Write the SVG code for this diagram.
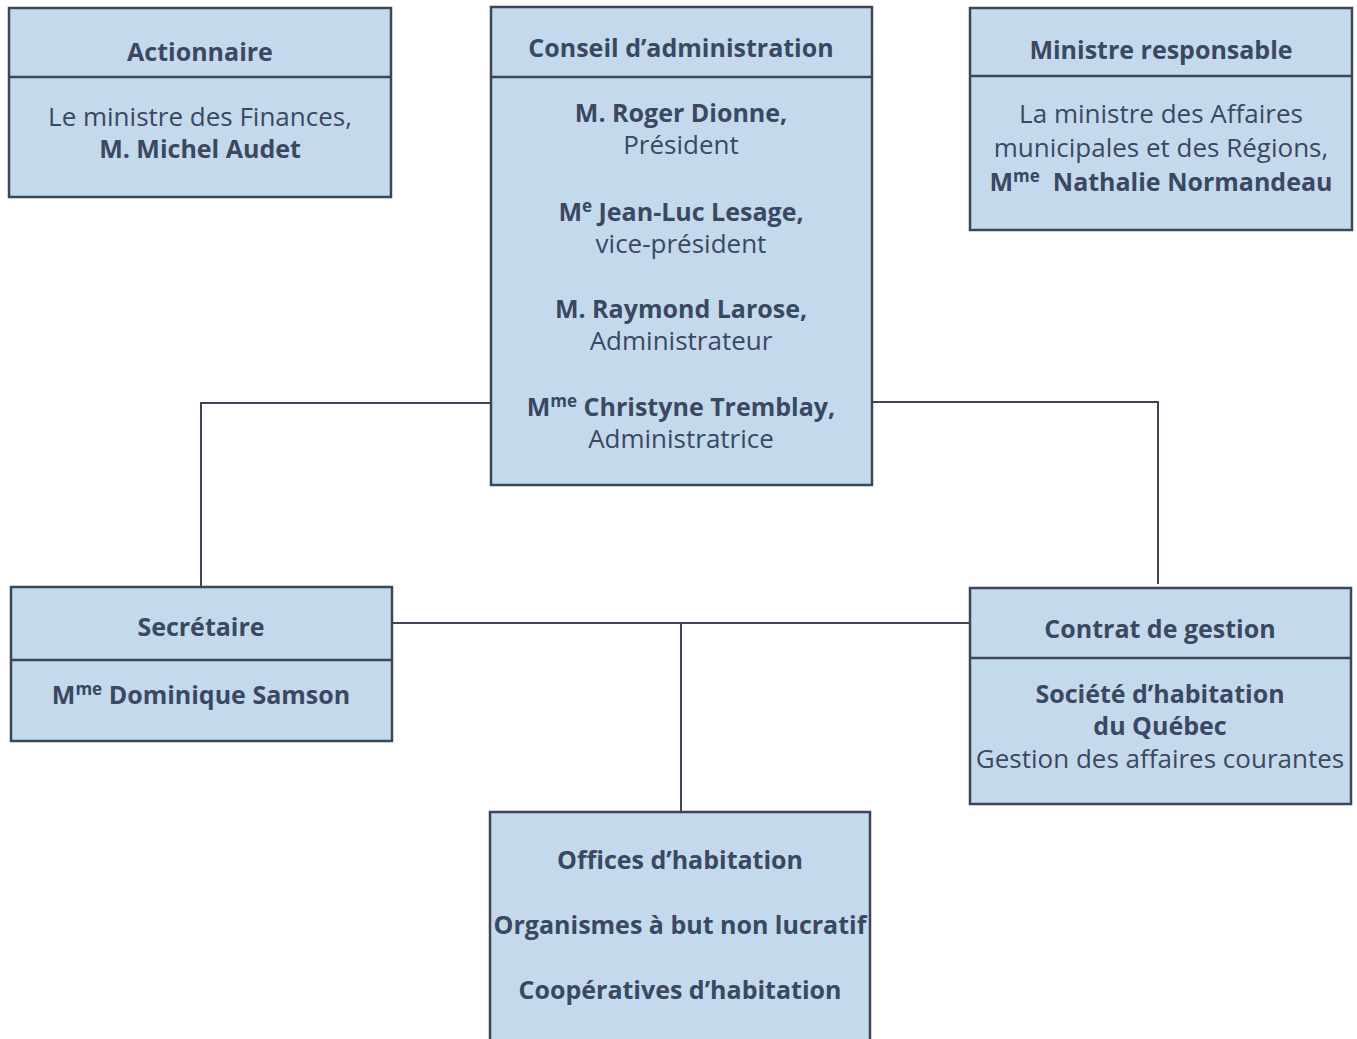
<svg xmlns="http://www.w3.org/2000/svg" width="1357" height="1039" viewBox="0 0 1357 1039">
<style>
.box{fill:#c5d9ec;stroke:#3d4659;stroke-width:2.5}
.div{stroke:#3d4659;stroke-width:2.5}
.con{fill:none;stroke:#3d4659;stroke-width:2}
text{font-family:"Open Sans","Noto Sans","DejaVu Sans",sans-serif;font-size:26px;fill:#3a4862;text-anchor:middle}
.b{font-weight:bold;font-size:25px}
.sup{font-size:17px}
</style>
<rect width="1357" height="1039" fill="#ffffff"/>
<g id="connectors">
<polyline class="con" points="490,403 201,403 201,586"/>
<polyline class="con" points="872,402 1158,402 1158,584"/>
<line class="con" x1="392" y1="623" x2="970" y2="623"/>
<line class="con" x1="681" y1="623" x2="681" y2="812"/>
</g>
<g id="actionnaire">
<rect class="box" x="9" y="8" width="382" height="189"/>
<line class="div" x1="9" y1="77" x2="391" y2="77"/>
<text class="b" x="200" y="61">Actionnaire</text>
<text x="200" y="126">Le ministre des Finances,</text>
<text class="b" x="200" y="158">M. Michel Audet</text>
</g>
<g id="conseil">
<rect class="box" x="491" y="7" width="381" height="478"/>
<line class="div" x1="491" y1="77" x2="872" y2="77"/>
<text class="b" x="681" y="57">Conseil d’administration</text>
<text class="b" x="681" y="122">M. Roger Dionne,</text>
<text x="681" y="154">Président</text>
<text class="b" x="681" y="221">M<tspan class="sup" dy="-9">e</tspan><tspan dy="9"> Jean-Luc Lesage,</tspan></text>
<text x="681" y="253">vice-président</text>
<text class="b" x="681" y="318">M. Raymond Larose,</text>
<text x="681" y="350">Administrateur</text>
<text class="b" x="681" y="416">M<tspan class="sup" dy="-9">me</tspan><tspan dy="9"> Christyne Tremblay,</tspan></text>
<text x="681" y="448">Administratrice</text>
</g>
<g id="ministre">
<rect class="box" x="970" y="8" width="382" height="222"/>
<line class="div" x1="970" y1="76" x2="1352" y2="76"/>
<text class="b" x="1161" y="59">Ministre responsable</text>
<text x="1161" y="123">La ministre des Affaires</text>
<text x="1161" y="157">municipales et des Régions,</text>
<text class="b" x="1161" y="191" xml:space="preserve">M<tspan class="sup" dy="-9">me</tspan><tspan dy="9">  Nathalie Normandeau</tspan></text>
</g>
<g id="secretaire">
<rect class="box" x="11" y="587" width="381" height="154"/>
<line class="div" x1="11" y1="660" x2="392" y2="660"/>
<text class="b" x="201" y="636">Secrétaire</text>
<text class="b" x="201" y="704">M<tspan class="sup" dy="-9">me</tspan><tspan dy="9"> Dominique Samson</tspan></text>
</g>
<g id="contrat">
<rect class="box" x="970" y="588" width="381" height="216"/>
<line class="div" x1="970" y1="658" x2="1351" y2="658"/>
<text class="b" x="1160" y="638">Contrat de gestion</text>
<text class="b" x="1160" y="703">Société d’habitation</text>
<text class="b" x="1160" y="735">du Québec</text>
<text x="1160" y="768">Gestion des affaires courantes</text>
</g>
<g id="offices">
<rect class="box" x="490" y="812" width="380" height="240"/>
<text class="b" x="680" y="869">Offices d’habitation</text>
<text class="b" x="680" y="934">Organismes à but non lucratif</text>
<text class="b" x="680" y="999">Coopératives d’habitation</text>
</g>
</svg>
